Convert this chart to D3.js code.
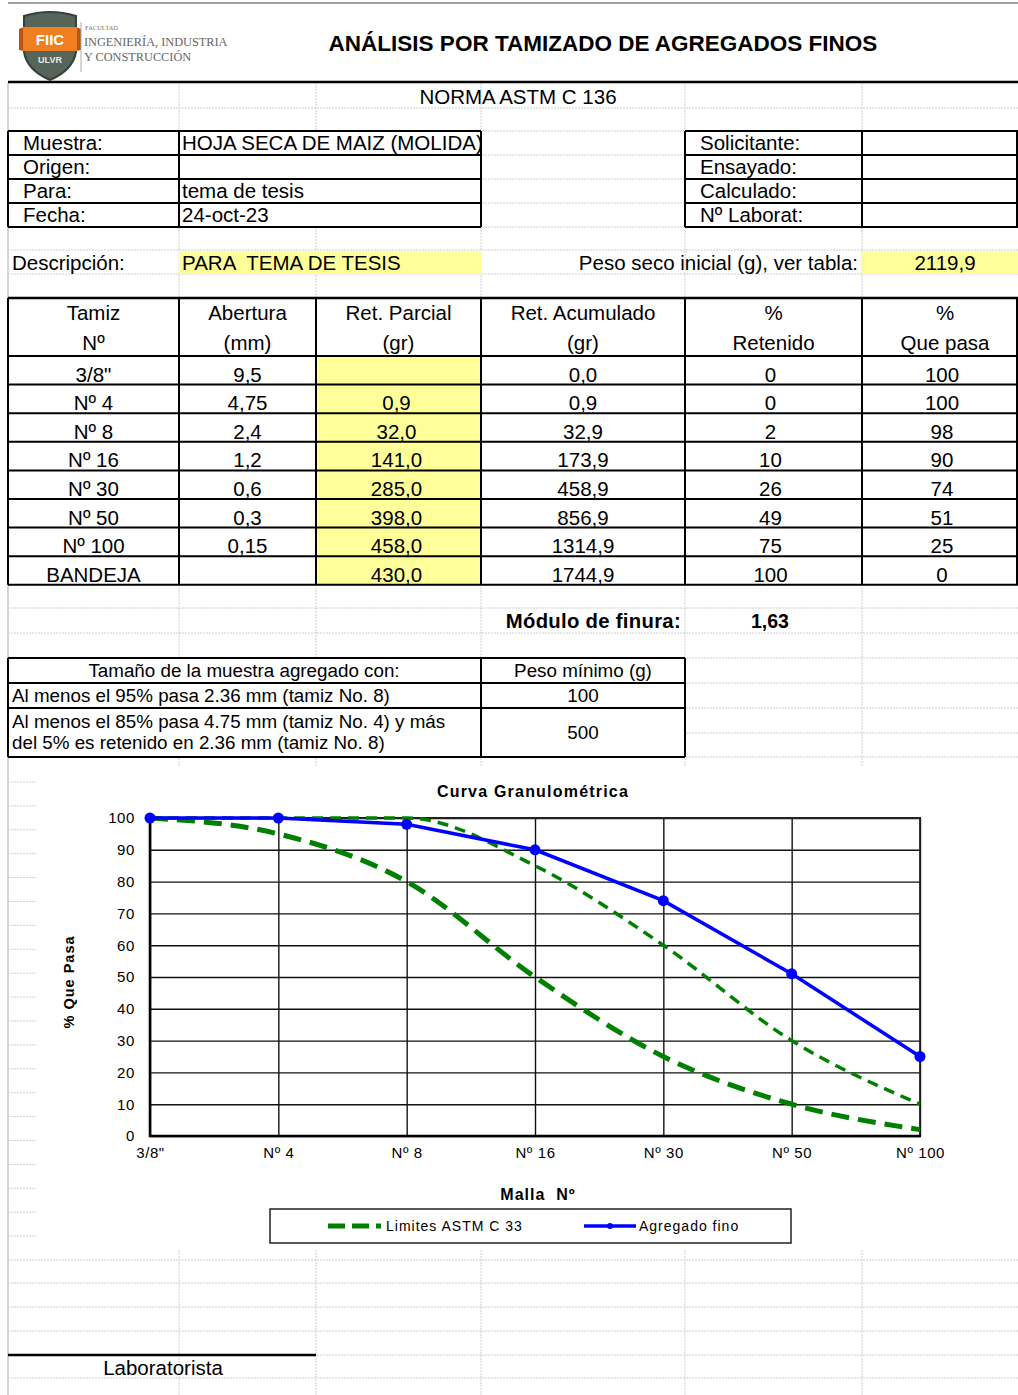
<!DOCTYPE html>
<html>
<head>
<meta charset="utf-8">
<script src="https://cdn.jsdelivr.net/npm/d3@7"></script>
<style>
  body { margin: 0; background: #fff; }
  svg { display: block; font-family: Arial, "Liberation Sans", sans-serif; }
  text { white-space: pre; }
</style>
</head>
<body>
<div id="sheet"></div>
<script>
// Data
const sieves = ['3/8"', 'Nº 4', 'Nº 8', 'Nº 16', 'Nº 30', 'Nº 50', 'Nº 100'];
const tableSieves = ['3/8"', 'Nº 4', 'Nº 8', 'Nº 16', 'Nº 30', 'Nº 50', 'Nº 100', 'BANDEJA'];
const aperture = [9.5, 4.75, 2.4, 1.2, 0.6, 0.3, 0.15, null];
const retParcial = [null, 0.9, 32.0, 141.0, 285.0, 398.0, 458.0, 430.0];
const retAcumulado = [0.0, 0.9, 32.9, 173.9, 458.9, 856.9, 1314.9, 1744.9];
const pctRetenido = [0, 0, 2, 10, 26, 49, 75, 100];
const pctPasa = [100, 100, 98, 90, 74, 51, 25, 0];
const upperLimit = [100, 100, 100, 85, 60, 30, 10];
const lowerLimit = [100, 95, 80, 50, 25, 10, 2];
const yTicks = [0, 10, 20, 30, 40, 50, 60, 70, 80, 90, 100];
const infoLeft = [['Muestra:', 'HOJA SECA DE MAIZ (MOLIDA)'], ['Origen:', ''], ['Para:', 'tema de tesis'], ['Fecha:', '24-oct-23']];
const infoRight = ['Solicitante:', 'Ensayado:', 'Calculado:', 'Nº Laborat:'];
const headers = [['Tamiz', 'Nº'], ['Abertura', '(mm)'], ['Ret. Parcial', '(gr)'], ['Ret. Acumulado', '(gr)'], ['%', 'Retenido'], ['%', 'Que pasa']];
const pesoInicial = 2119.9;
const moduloFinura = 1.63;

const W = 1018, H = 1395;
const FONT = 20.5;
const cols = [8, 179, 316, 481, 685, 862, 1018];
const fmt1 = v => d3.format('.1f')(v).replace('.', ',');
const fmtDec = v => v == null ? '' : String(v).replace('.', ',');

const svg = d3.select('#sheet').append('svg')
    .attr('width', W)
    .attr('height', H);

svg.append('rect').attr('width', W).attr('height', H).attr('fill', '#fff');

function txt(g, x, y, s, o = {}) {
    return g.append('text')
        .attr('x', x)
        .attr('y', y)
        .attr('text-anchor', o.anchor || 'start')
        .attr('font-size', o.size || FONT)
        .attr('font-weight', o.bold ? 'bold' : null)
        .attr('letter-spacing', o.ls || null)
        .attr('font-family', o.family || null)
        .attr('fill', o.fill || '#000')
        .text(s);
}

function line(g, x1, y1, x2, y2, w = 2, color = '#000', dash = null) {
    return g.append('line')
        .attr('x1', x1).attr('y1', y1).attr('x2', x2).attr('y2', y2)
        .attr('stroke', color)
        .attr('stroke-width', w)
        .attr('stroke-dasharray', dash);
}

// Faint spreadsheet gridlines
const faint = svg.append('g');
const sheetRows = [108, 131, 155, 179, 203, 227, 250, 274, 298, 356, 608, 633, 658, 683, 708, 733, 757]
    .concat(d3.range(782, 1250, 23.9))
    .concat([1260, 1283, 1307, 1331, 1355, 1378]);
sheetRows.forEach(y => line(faint, 8, y, W, y, 1, '#cfcfcf', '2,1'));
cols.slice(1, -1).forEach(x => line(faint, x, 83, x, H, 1, '#cfcfcf', '2,1'));
line(faint, 8, 83, 8, H, 2, '#d4d4d4');

// Header with logo
const head = svg.append('g');
head.append('rect').attr('x', 8).attr('y', 4).attr('width', W - 8).attr('height', 78).attr('fill', '#fff');
line(head, 8, 3, W, 3, 1, '#444');
line(head, 8, 82, W, 82, 2.5, '#000');

const logo = head.append('g');
logo.append('path')
    .attr('d', 'M24 16 Q50 8 76 16 L76 52 Q73 70 50 80 Q27 70 24 52 Z')
    .attr('fill', '#56645a')
    .attr('stroke', '#36413a')
    .attr('stroke-width', 2);
logo.append('path').attr('d', 'M19 29 L24 27 L24 51 L19 50 Z').attr('fill', '#b8560f');
logo.append('path').attr('d', 'M81 29 L76 27 L76 51 L81 50 Z').attr('fill', '#b8560f');
logo.append('rect').attr('x', 23).attr('y', 27).attr('width', 54).attr('height', 24).attr('fill', '#f07f22');
txt(logo, 50, 45, 'FIIC', { anchor: 'middle', size: 15, bold: true, fill: '#fff' });
txt(logo, 50, 63, 'ULVR', { anchor: 'middle', size: 9, bold: true, fill: '#e8e8e8' });
line(logo, 81, 22, 81, 72, 1, '#aaa');
txt(logo, 85, 30, 'FACULTAD', { size: 6.5, fill: '#777', family: '"Liberation Serif", "DejaVu Serif", serif' });
txt(logo, 84, 46, 'INGENIERÍA, INDUSTRIA', { size: 12.3, fill: '#666', family: '"Liberation Serif", "DejaVu Serif", serif' });
txt(logo, 84, 61, 'Y CONSTRUCCIÓN', { size: 12.3, fill: '#666', family: '"Liberation Serif", "DejaVu Serif", serif' });

txt(head, 603, 51, 'ANÁLISIS POR TAMIZADO DE AGREGADOS FINOS', { anchor: 'middle', size: 22.5, bold: true });
txt(svg, 518, 104, 'NORMA ASTM C 136', { anchor: 'middle' });

// Info boxes
const info = svg.append('g');
const infoRows = [131, 155, 179, 203, 227];
info.append('rect').attr('x', 8).attr('y', 131).attr('width', 473).attr('height', 96).attr('fill', '#fff');
info.append('rect').attr('x', 685).attr('y', 131).attr('width', 333).attr('height', 96).attr('fill', '#fff');
infoRows.forEach(y => {
    line(info, 8, y, 481, y, 2);
    line(info, 685, y, W, y, 2);
});
[8, 179, 481].forEach(x => line(info, x, 131, x, 227, 2));
[685, 862, W - 1].forEach(x => line(info, x, 131, x, 227, 2));
infoLeft.forEach((d, i) => {
    txt(info, 23, infoRows[i + 1] - 5, d[0]);
    txt(info, 182, infoRows[i + 1] - 5, d[1]);
});
infoRight.forEach((d, i) => txt(info, 700, infoRows[i + 1] - 5, d));

// Description row
svg.append('rect').attr('x', 179).attr('y', 251).attr('width', 303).attr('height', 23).attr('fill', '#ffff99');
svg.append('rect').attr('x', 862).attr('y', 251).attr('width', 156).attr('height', 23).attr('fill', '#ffff99');
txt(svg, 12, 270, 'Descripción:');
txt(svg, 182, 270, 'PARA  TEMA DE TESIS');
txt(svg, 858, 270, 'Peso seco inicial (g), ver tabla:', { anchor: 'end' });
txt(svg, 945, 270, fmt1(pesoInicial), { anchor: 'middle' });

// Main table
const table = svg.append('g');
const tableTop = 298, headBottom = 356, rowH = 28.6;
const rowLines = d3.range(tableSieves.length + 1).map(i => headBottom + i * rowH);
table.append('rect').attr('x', 8).attr('y', tableTop).attr('width', W - 8).attr('height', rowLines[rowLines.length - 1] - tableTop).attr('fill', '#fff');
table.append('rect').attr('x', cols[2]).attr('y', headBottom).attr('width', cols[3] - cols[2]).attr('height', rowLines[rowLines.length - 1] - headBottom).attr('fill', '#ffff99');
line(table, 8, tableTop, W, tableTop, 2.5);
rowLines.forEach(y => line(table, 8, y, W, y, 2));
cols.forEach(x => line(table, Math.min(x, W - 1), tableTop, Math.min(x, W - 1), rowLines[rowLines.length - 1], 2));

const colCenter = i => (cols[i] + cols[i + 1]) / 2;
headers.forEach((h, i) => {
    txt(table, colCenter(i) + (i === 5 ? 5 : 0), 320, h[0], { anchor: 'middle' });
    txt(table, colCenter(i) + (i === 5 ? 5 : 0), 350, h[1], { anchor: 'middle' });
});
tableSieves.forEach((s, i) => {
    const y = rowLines[i + 1] - 3;
    txt(table, colCenter(0), y, s, { anchor: 'middle' });
    txt(table, colCenter(1), y, fmtDec(aperture[i]), { anchor: 'middle' });
    txt(table, colCenter(2) - 2, y, retParcial[i] == null ? '' : fmt1(retParcial[i]), { anchor: 'middle' });
    txt(table, colCenter(3), y, fmt1(retAcumulado[i]), { anchor: 'middle' });
    txt(table, colCenter(4) - 3, y, pctRetenido[i], { anchor: 'middle' });
    txt(table, colCenter(5) + 2, y, pctPasa[i], { anchor: 'middle' });
});

// Fineness modulus
txt(svg, 681, 628, 'Módulo de finura:', { anchor: 'end', bold: true, size: 20.3, ls: 0.3 });
txt(svg, 770, 628, d3.format('.2f')(moduloFinura).replace('.', ','), { anchor: 'middle', bold: true, size: 19.5 });

// Sample size table
const small = svg.append('g');
small.append('rect').attr('x', 8).attr('y', 658).attr('width', 677).attr('height', 99).attr('fill', '#fff');
[658, 683, 708, 757].forEach(y => line(small, 8, y, 685, y, 2));
[8, 481, 685].forEach(x => line(small, x, 658, x, 757, 2));
const SM = 18.8;
txt(small, 244, 677, 'Tamaño de la muestra agregado con:', { anchor: 'middle', size: SM });
txt(small, 583, 677, 'Peso mínimo (g)', { anchor: 'middle', size: SM });
txt(small, 12, 702, 'Al menos el 95% pasa 2.36 mm (tamiz No. 8)', { size: SM });
txt(small, 583, 702, '100', { anchor: 'middle', size: SM });
txt(small, 12, 728, 'Al menos el 85% pasa 4.75 mm (tamiz No. 4) y más', { size: SM });
txt(small, 12, 749, 'del 5% es retenido en 2.36 mm (tamiz No. 8)', { size: SM });
txt(small, 583, 739, '500', { anchor: 'middle', size: SM });

// Chart
const chart = svg.append('g');
chart.append('rect').attr('x', 36).attr('y', 766).attr('width', W - 36).attr('height', 484).attr('fill', '#fff');

const plot = { left: 150, right: 920, top: 818, bottom: 1136 };
const x = d3.scalePoint().domain(sieves).range([plot.left, plot.right]);
const y = d3.scaleLinear().domain([0, 100]).range([plot.bottom, plot.top]);

const yAxis = chart.append('g')
    .attr('transform', `translate(${plot.left},0)`)
    .call(d3.axisLeft(y).tickValues(yTicks).tickSize(-(plot.right - plot.left)).tickPadding(15));
yAxis.select('.domain').remove();
yAxis.selectAll('line').attr('stroke', '#111').attr('stroke-width', 1.4);
yAxis.selectAll('text').attr('font-size', 15).attr('letter-spacing', 0.6).attr('fill', '#000')
    .attr('font-family', 'Arial, "Liberation Sans", sans-serif');

const xAxis = chart.append('g')
    .attr('transform', `translate(0,${plot.bottom})`)
    .call(d3.axisBottom(x).tickSize(-(plot.bottom - plot.top)).tickPadding(11));
xAxis.select('.domain').remove();
xAxis.selectAll('line').attr('stroke', '#111').attr('stroke-width', 1.4);
xAxis.selectAll('text').attr('font-size', 15).attr('letter-spacing', 0.6).attr('fill', '#000')
    .attr('font-family', 'Arial, "Liberation Sans", sans-serif');

// Plot frame
line(chart, plot.left, plot.top, plot.right + 1, plot.top, 1.8, '#222');
line(chart, plot.right, plot.top, plot.right, plot.bottom, 1.8, '#222');
line(chart, plot.left, plot.top - 1, plot.left, plot.bottom + 1, 2.6);
line(chart, plot.left - 1, plot.bottom, plot.right + 1, plot.bottom, 2.6);

const smooth = d3.line().x((d, i) => x(sieves[i])).y(d => y(d)).curve(d3.curveMonotoneX);
const straight = d3.line().x((d, i) => x(sieves[i])).y(d => y(d));

chart.append('path').datum(upperLimit)
    .attr('d', smooth).attr('fill', 'none')
    .attr('stroke', '#008000').attr('stroke-width', 3.5).attr('stroke-dasharray', '11,7');
chart.append('path').datum(lowerLimit)
    .attr('d', smooth).attr('fill', 'none')
    .attr('stroke', '#008000').attr('stroke-width', 5).attr('stroke-dasharray', '18,9');

const passing = pctPasa.slice(0, sieves.length);
chart.append('path').datum(passing)
    .attr('d', straight).attr('fill', 'none')
    .attr('stroke', '#0000ff').attr('stroke-width', 3.5);
chart.selectAll('.pt').data(passing).join('circle')
    .attr('class', 'pt')
    .attr('cx', (d, i) => x(sieves[i]))
    .attr('cy', d => y(d))
    .attr('r', 5.5)
    .attr('fill', '#0000ff');

txt(chart, 533, 797, 'Curva Granulométrica', { anchor: 'middle', bold: true, size: 16, ls: 1.2 });
txt(chart, 538, 1200, 'Malla  Nº', { anchor: 'middle', bold: true, size: 16, ls: 1 });
chart.append('text')
    .attr('transform', 'translate(74,982) rotate(-90)')
    .attr('text-anchor', 'middle')
    .attr('font-size', 14.5)
    .attr('font-weight', 'bold')
    .attr('letter-spacing', 1)
    .text('% Que Pasa');

// Legend
const legend = chart.append('g');
legend.append('rect').attr('x', 270).attr('y', 1209).attr('width', 521).attr('height', 34)
    .attr('fill', '#fff').attr('stroke', '#222').attr('stroke-width', 1.5);
line(legend, 328, 1226, 381, 1226, 5, '#008000', '17,7');
txt(legend, 386, 1231, 'Limites ASTM C 33', { size: 14, ls: 1 });
line(legend, 584, 1226, 636, 1226, 3.5, '#0000ff');
legend.append('circle').attr('cx', 610).attr('cy', 1226).attr('r', 3).attr('fill', '#0000ff');
txt(legend, 639, 1231, 'Agregado fino', { size: 14, ls: 1 });

// Signature line
line(svg, 8, 1355, 316, 1355, 2.5);
txt(svg, 163, 1375, 'Laboratorista', { anchor: 'middle' });
</script>
</body>
</html>
